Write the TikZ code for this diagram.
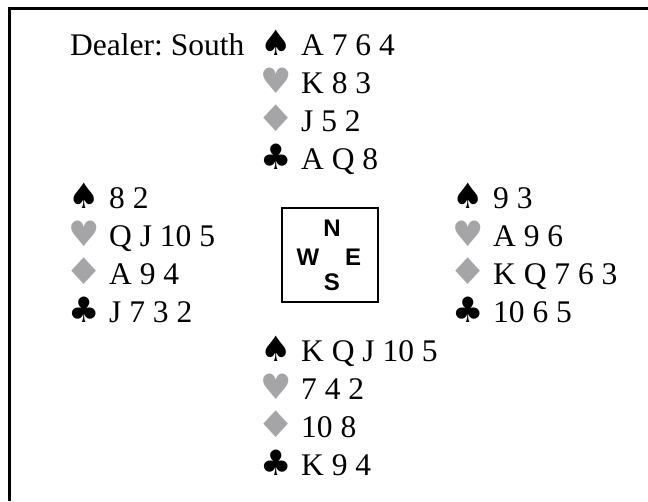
\documentclass[tikz,border=0pt]{standalone}
\usepackage{fontspec}
\setmainfont{Liberation Serif}
\newfontfamily\suitfont{DejaVu Sans}
\newfontfamily\dirfont{Liberation Sans}
\usepackage{xcolor}
\usetikzlibrary{calc, math}
\definecolor{suitgray}{RGB}{165,165,168}

\newcommand{\spd}{♠}
\newcommand{\hrt}{\textcolor{suitgray}{♥}}
\newcommand{\dmd}{\textcolor{suitgray}{\scalebox{1.25}[1.05]{♦}}}
\newcommand{\clb}{♣}
\newcommand{\hrow}[2]{\makebox[22pt][c]{\suitfont\fontsize{35}{35}\selectfont #1}\hspace{14pt}#2}

\begin{document}
\begin{tikzpicture}[x=1pt,y=-1pt,
hand/.style={anchor=base west, inner sep=0pt, font=\fontsize{31.5}{38}\selectfont\frenchspacing},
dir/.style={inner sep=0pt, font=\dirfont\bfseries\fontsize{24}{24}\selectfont}]
\tikzmath{
\dy=38.27;
\yN=55;
\yW=\yN+4*\dy;
\yS=\yN+8*\dy;
}
\useasboundingbox (0,0) rectangle (648,501);

\coordinate (PN) at (265,\yN);
\coordinate (PW) at (73,\yW);
\coordinate (PE) at (457,\yW);
\coordinate (PS) at (265,\yS);

%frame
\draw[line width=3pt] (9,501) -- (9,8.5) -- (648,8.5);

\node[hand] (dealer) at (70,\yN) {Dealer: South};

%north
\node[hand] (N1) at (PN) {\hrow{\spd}{A 7 6 4}};
\node[hand] (N2) at ($(PN)+(0,\dy)$) {\hrow{\hrt}{K 8 3}};
\node[hand] (N3) at ($(PN)+(0,2*\dy)$) {\hrow{\dmd}{J 5 2}};
\node[hand] (N4) at ($(PN)+(0,3*\dy)$) {\hrow{\clb}{A Q 8}};

%west
\node[hand] (W1) at (PW) {\hrow{\spd}{8 2}};
\node[hand] (W2) at ($(PW)+(0,\dy)$) {\hrow{\hrt}{Q J 10 5}};
\node[hand] (W3) at ($(PW)+(0,2*\dy)$) {\hrow{\dmd}{A 9 4}};
\node[hand] (W4) at ($(PW)+(0,3*\dy)$) {\hrow{\clb}{J 7 3 2}};

%east
\node[hand] (E1) at (PE) {\hrow{\spd}{9 3}};
\node[hand] (E2) at ($(PE)+(0,\dy)$) {\hrow{\hrt}{A 9 6}};
\node[hand] (E3) at ($(PE)+(0,2*\dy)$) {\hrow{\dmd}{K Q 7 6 3}};
\node[hand] (E4) at ($(PE)+(0,3*\dy)$) {\hrow{\clb}{10 6 5}};

%south
\node[hand] (S1) at (PS) {\hrow{\spd}{K Q J 10 5}};
\node[hand] (S2) at ($(PS)+(0,\dy)$) {\hrow{\hrt}{7 4 2}};
\node[hand] (S3) at ($(PS)+(0,2*\dy)$) {\hrow{\dmd}{10 8}};
\node[hand] (S4) at ($(PS)+(0,3*\dy)$) {\hrow{\clb}{K 9 4}};

%compass
\node[draw, line width=2pt, minimum width=96pt, minimum height=94pt] (box) at (330,255) {};
\node[dir] (cN) at ($(box.center)+(2,-27)$) {N};
\node[dir] (cW) at ($(box.center)+(-22,2)$) {W};
\node[dir] (cE) at ($(box.center)+(23,2)$) {E};
\node[dir] (cS) at ($(box.center)+(2,27)$) {S};

\end{tikzpicture}
\end{document}
